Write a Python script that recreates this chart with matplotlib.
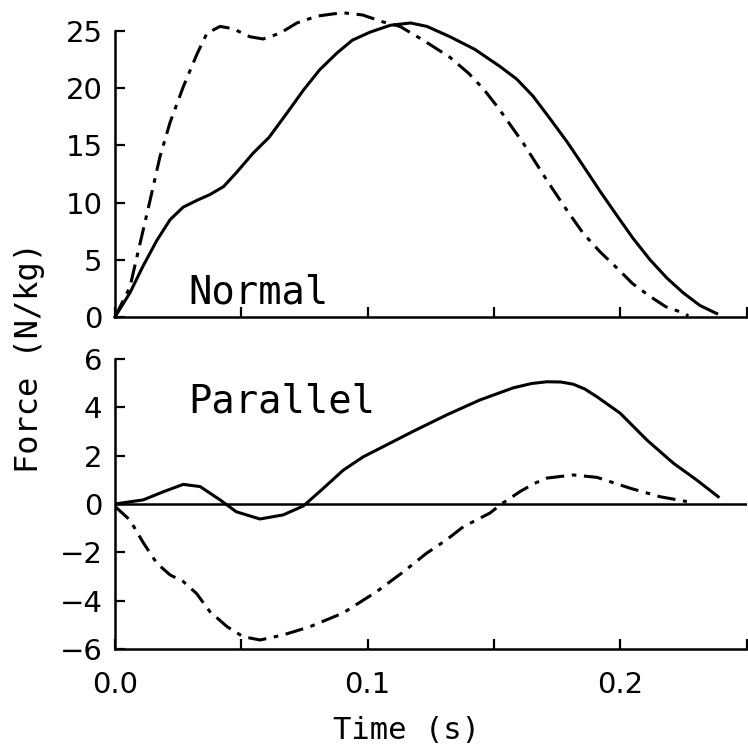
import matplotlib
matplotlib.use("Agg")
import matplotlib.pyplot as plt
from matplotlib.ticker import FuncFormatter

plt.rcParams['font.family'] = ['DejaVu Sans Mono', 'DejaVu Sans']

# --- normal force (N/kg) ---
t_norm_solid = [0.0, 0.0059, 0.011, 0.0166, 0.0218, 0.027, 0.0325, 0.0376, 0.043, 0.048,
                0.0546, 0.061, 0.068, 0.0745, 0.081, 0.088, 0.094, 0.101, 0.109, 0.117,
                0.1235, 0.1326, 0.1424, 0.1524, 0.159, 0.1655, 0.172, 0.179, 0.1854,
                0.192, 0.1986, 0.205, 0.2118, 0.2185, 0.225, 0.2316, 0.2382]
f_norm_solid = [0.0, 2.1, 4.4, 6.7, 8.5, 9.6, 10.2, 10.7, 11.4, 12.6,
                14.3, 15.7, 17.8, 19.8, 21.6, 23.1, 24.2, 24.9, 25.5, 25.7,
                25.4, 24.5, 23.4, 21.9, 20.8, 19.3, 17.4, 15.3, 13.2,
                11.0, 8.9, 6.9, 5.0, 3.4, 2.1, 1.0, 0.3]

t_norm_dash = [0.0, 0.0059, 0.0099, 0.0139, 0.0178, 0.0218, 0.027, 0.0325, 0.0364, 0.0416,
               0.0467, 0.0534, 0.0586, 0.0653, 0.072, 0.080, 0.090, 0.098, 0.106, 0.1128,
               0.122, 0.1326, 0.140, 0.146, 0.152, 0.1616, 0.172, 0.179, 0.1854, 0.192,
               0.1986, 0.205, 0.2118, 0.218, 0.225, 0.227]
f_norm_dash = [0.0, 2.6, 6.4, 10.2, 14.0, 17.0, 20.1, 23.0, 24.8, 25.4,
               25.2, 24.5, 24.3, 24.8, 25.7, 26.3, 26.6, 26.4, 25.8, 25.4,
               24.2, 22.7, 21.3, 19.9, 18.2, 15.2, 11.6, 9.3, 7.3, 5.7,
               4.3, 2.9, 1.8, 0.9, 0.35, 0.1]

# --- parallel force (N/kg) ---
t_par_solid = [0.0, 0.0112, 0.019, 0.027, 0.0337, 0.0416, 0.048, 0.0574, 0.0666, 0.0746,
               0.0825, 0.0904, 0.0983, 0.1077, 0.118, 0.1313, 0.1445, 0.1577, 0.165, 0.171,
               0.1765, 0.1814, 0.1860, 0.1908, 0.200, 0.2106, 0.221, 0.2303, 0.2388]
f_par_solid = [0.0, 0.17, 0.5, 0.81, 0.72, 0.17, -0.32, -0.62, -0.45, -0.08,
               0.65, 1.4, 1.95, 2.45, 3.0, 3.68, 4.3, 4.8, 4.98, 5.05,
               5.04, 4.95, 4.75, 4.43, 3.75, 2.64, 1.69, 0.99, 0.3]

t_par_dash = [0.0, 0.0059, 0.0112, 0.0166, 0.0218, 0.027, 0.0323, 0.0376, 0.0444, 0.0507,
              0.0574, 0.0666, 0.0772, 0.0904, 0.1036, 0.1142, 0.1234, 0.131, 0.1379,
              0.1485, 0.153, 0.1603, 0.166, 0.171, 0.1814, 0.1908, 0.204, 0.2158, 0.2264]
f_par_dash = [-0.1, -0.66, -1.6, -2.45, -2.93, -3.2, -3.7, -4.45, -5.07, -5.48,
              -5.62, -5.41, -5.07, -4.5, -3.62, -2.8, -2.03, -1.5, -0.94,
              -0.37, 0.0, 0.51, 0.85, 1.07, 1.2, 1.1, 0.65, 0.3, 0.1]

x_ticks = [0.0, 0.05, 0.1, 0.15, 0.2, 0.25]
norm_ticks = [0, 5, 10, 15, 20, 25]
par_ticks = [-6, -4, -2, 0, 2, 4, 6]

LW = 2.2
DASHDOT = (0, (6, 2.5, 1.5, 2.5))

fig = plt.figure(figsize=(7.48, 7.52), dpi=100)
ax1 = fig.add_axes([0.1537, 0.5785, 0.8443, 0.3803])
ax2 = fig.add_axes([0.1537, 0.1367, 0.8443, 0.3862])

ax1.plot(t_norm_solid, f_norm_solid, color='black', lw=LW, clip_on=False)
ax1.plot(t_norm_dash, f_norm_dash, color='black', lw=LW, ls=DASHDOT, clip_on=False)
ax1.set_ylim(0, 25)
ax1.set_yticks(norm_ticks)
ax1.text(0.0289, 1.22, 'Normal', fontsize=28, ha='left', va='baseline')

ax2.axhline(0, color='black', lw=1.8)
ax2.plot(t_par_solid, f_par_solid, color='black', lw=LW)
ax2.plot(t_par_dash, f_par_dash, color='black', lw=LW, ls=DASHDOT)
ax2.set_ylim(-6, 6)
ax2.set_yticks(par_ticks)
ax2.text(0.0289, 3.8, 'Parallel', fontsize=28, ha='left', va='baseline')

for ax in (ax1, ax2):
    ax.set_xlim(0, 0.25)
    ax.set_xticks(x_ticks)
    ax.spines['top'].set_visible(False)
    ax.spines['right'].set_visible(False)
    ax.spines['left'].set_linewidth(1.8)
    ax.spines['bottom'].set_linewidth(1.8)
    ax.tick_params(direction='in', length=7, width=1.6, labelsize=21)
    ax.tick_params(axis='y', pad=9)
    ax.tick_params(axis='x', pad=16)
    for lab in ax.get_xticklabels() + ax.get_yticklabels():
        lab.set_family('DejaVu Sans')

ax1.tick_params(axis='x', labelbottom=False)
ax2.xaxis.set_major_formatter(FuncFormatter(lambda v, p: f'{v:.1f}' if round(v / 0.1, 6) % 1 == 0 else ''))

fig.text(0.039, 0.525, 'Force (N/kg)', rotation=90, fontsize=23, ha='center', va='center')
fig.text(0.544, 0.028, 'Time (s)', fontsize=22, ha='center', va='center')

fig.savefig('out.png', dpi=100)
